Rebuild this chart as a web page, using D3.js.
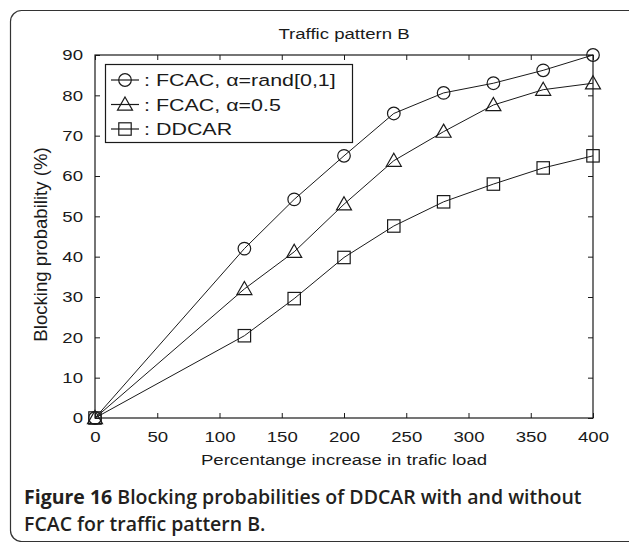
<!DOCTYPE html>
<html>
<head>
<meta charset="utf-8">
<script src="https://cdn.jsdelivr.net/npm/d3@7"></script>
<style>
  html, body { margin: 0; padding: 0; background: #fff; }
  svg { display: block; }
</style>
</head>
<body>
<svg id="fig" width="629" height="542"></svg>
<script>
// Traffic load steps (% increase) and blocking probability (%) for each scheme
const loads = [0, 120, 160, 200, 240, 280, 320, 360, 400];
const fcacRand = [0, 42, 54.2, 65, 75.5, 80.6, 83, 86.2, 90];
const fcacHalf = [0, 32, 41.2, 53, 63.8, 71, 77.6, 81.4, 83];
const ddcar = [0, 20.4, 29.6, 39.8, 47.6, 53.6, 58, 62, 65];

const seriesNames = [": FCAC, \u03B1=rand[0,1]", ": FCAC, \u03B1=0.5", ": DDCAR"];
const seriesMarkers = ["circle", "triangle", "square"];
const xTicks = [0, 50, 100, 150, 200, 250, 300, 350, 400];
const yTicks = [0, 10, 20, 30, 40, 50, 60, 70, 80, 90];

const chartTitle = "Traffic pattern B";
const xTitle = "Percentange increase in trafic load";
const yTitle = "Blocking probability (%)";
const captionBold = "Figure 16";
const captionLine1 = " Blocking probabilities of DDCAR with and without";
const captionLine2 = "FCAC for traffic pattern B.";

const series = seriesNames.map((name, i) => ({
  name,
  marker: seriesMarkers[i],
  values: [fcacRand, fcacHalf, ddcar][i].map((v, j) => ({ x: loads[j], y: v }))
}));

const svg = d3.select("#fig");
const ink = "#1a1a1a";
const plotFont = "'Liberation Sans', Arial, sans-serif";
const stretch = 1.2; // plot lettering is drawn slightly wide

// outer frame with rounded corners
svg.append("rect")
  .attr("x", 10.5).attr("y", 10.5)
  .attr("width", 640).attr("height", 531)
  .attr("rx", 11).attr("ry", 11)
  .attr("fill", "none").attr("stroke", "#333").attr("stroke-width", 1.2);

const m = { left: 95, right: 593, top: 55, bottom: 418 };
const x = d3.scaleLinear().domain([0, 400]).range([m.left, m.right]);
const y = d3.scaleLinear().domain([0, 90]).range([m.bottom, m.top]);

const g = svg.append("g");

// axes box with inward ticks on all four sides
const tickLen = 5;
function styleAxis(sel, hideText) {
  sel.select(".domain").remove();
  sel.selectAll(".tick line").attr("stroke", ink).attr("stroke-width", 1);
  sel.selectAll(".tick text")
    .attr("fill", ink)
    .attr("transform", `scale(${stretch},1)`)
    .style("font-family", plotFont)
    .style("font-size", "15.5px");
  if (hideText) sel.selectAll(".tick text").remove();
}

g.append("g").attr("transform", `translate(0,${m.bottom})`)
  .call(d3.axisBottom(x).tickValues(xTicks).tickSize(-tickLen).tickPadding(13))
  .call(s => styleAxis(s, false));
g.append("g").attr("transform", `translate(0,${m.top})`)
  .call(d3.axisTop(x).tickValues(xTicks).tickSize(-tickLen))
  .call(s => styleAxis(s, true));
g.append("g").attr("transform", `translate(${m.left},0)`)
  .call(d3.axisLeft(y).tickValues(yTicks).tickSize(-tickLen).tickPadding(10))
  .call(s => styleAxis(s, false));
g.append("g").attr("transform", `translate(${m.right},0)`)
  .call(d3.axisRight(y).tickValues(yTicks).tickSize(-tickLen))
  .call(s => styleAxis(s, true));

g.append("rect")
  .attr("x", m.left).attr("y", m.top)
  .attr("width", m.right - m.left).attr("height", m.bottom - m.top)
  .attr("fill", "none").attr("stroke", ink).attr("stroke-width", 1.2);

// titles
svg.append("text")
  .attr("transform", `translate(${(m.left + m.right) / 2},39) scale(${stretch},1)`)
  .attr("text-anchor", "middle")
  .style("font-family", plotFont).style("font-size", "15.5px")
  .attr("fill", ink).text(chartTitle);

svg.append("text")
  .attr("transform", `translate(${(m.left + m.right) / 2},465) scale(${stretch},1)`)
  .attr("text-anchor", "middle")
  .style("font-family", plotFont).style("font-size", "15.5px")
  .attr("fill", ink).text(xTitle);

svg.append("text")
  .attr("transform", `translate(47,${(m.top + m.bottom) / 2 + 8}) rotate(-90) scale(1.2,${stretch})`)
  .attr("text-anchor", "middle")
  .style("font-family", plotFont).style("font-size", "15.5px")
  .attr("fill", ink).text(yTitle);

// marker shapes
function drawMarker(sel, type, cx, cy) {
  if (type === "circle") {
    sel.append("circle").attr("cx", cx).attr("cy", cy).attr("r", 6.3);
  } else if (type === "triangle") {
    const s = 7.5;
    sel.append("path").attr("d",
      `M${cx},${cy - s} L${cx + s},${cy + s * 0.75} L${cx - s},${cy + s * 0.75} Z`);
  } else {
    const s = 6.2;
    sel.append("rect").attr("x", cx - s).attr("y", cy - s)
      .attr("width", 2 * s).attr("height", 2 * s);
  }
}

const line = d3.line().x(d => x(d.x)).y(d => y(d.y));

series.forEach(s => {
  const sg = g.append("g").attr("fill", "none").attr("stroke", ink).attr("stroke-width", 1);
  sg.append("path").attr("d", line(s.values));
  const mg = sg.append("g").attr("stroke-width", 1.2);
  s.values.forEach(d => drawMarker(mg, s.marker, x(d.x), y(d.y)));
});

// legend
const lg = svg.append("g");
lg.append("rect")
  .attr("x", 105.5).attr("y", 64.5).attr("width", 247).attr("height", 78)
  .attr("fill", "#fff").attr("stroke", ink).attr("stroke-width", 1.2);
series.forEach((s, i) => {
  const ry = 80 + i * 24.5;
  const row = lg.append("g").attr("fill", "none").attr("stroke", ink).attr("stroke-width", 1.2);
  row.append("line").attr("x1", 111).attr("x2", 139).attr("y1", ry).attr("y2", ry);
  drawMarker(row, s.marker, 125, ry);
  lg.append("text")
    .attr("transform", `translate(144,${ry + 6}) scale(1.3,1)`)
    .style("font-family", plotFont).style("font-size", "16.5px")
    .attr("fill", ink).text(s.name);
});

// caption
const cap = svg.append("g")
  .style("font-family", "'Open Sans', 'Noto Sans', sans-serif")
  .style("font-size", "19.5px").attr("fill", "#231f20");
const t1 = cap.append("text").attr("x", 24).attr("y", 504);
t1.append("tspan").style("font-weight", "bold").text(captionBold);
t1.append("tspan").style("font-weight", "600").text(captionLine1);
cap.append("text").attr("x", 24).attr("y", 531).style("font-weight", "600").text(captionLine2);
</script>
</body>
</html>
